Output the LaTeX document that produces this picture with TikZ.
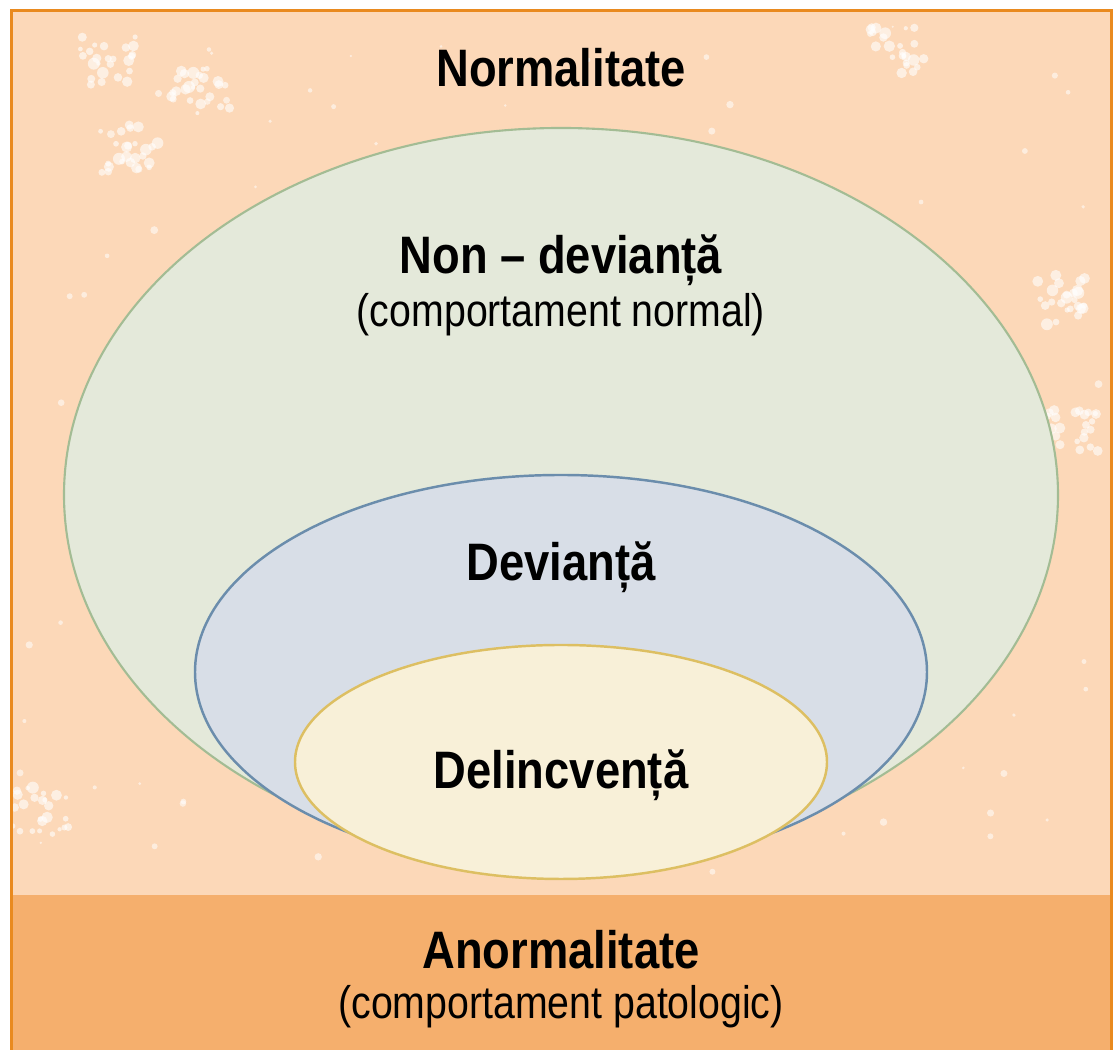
\documentclass[tikz,border=0pt]{standalone}
\usepackage{fontspec}
\setmainfont{Liberation Sans}[FakeStretch=0.86]
\definecolor{peach}{HTML}{FCD8B8}
\definecolor{bandorange}{HTML}{F5AF6D}
\definecolor{frameorange}{HTML}{E98A1F}
\definecolor{greenfill}{HTML}{E4E9DA}
\definecolor{greenline}{HTML}{A3BC94}
\definecolor{bluefill}{HTML}{D8DEE7}
\definecolor{blueline}{HTML}{6B8DAC}
\definecolor{yellowfill}{HTML}{F8F0D8}
\definecolor{yellowline}{HTML}{DDBF62}

\begin{document}
\begin{tikzpicture}[x=0.02cm,y=0.02cm,
    title/.style={font=\bfseries\fontsize{30}{35}\selectfont,inner sep=0pt},
    subtitle/.style={font=\fontsize{26}{31}\selectfont,inner sep=0pt}]
    \useasboundingbox (0,0) rectangle (1120,1050);

% fundalul
    \fill[peach] (11.5,-5) rectangle (1111.5,1039.5);
    \pgfmathsetseed{7}
    \foreach \i in {1,...,140} {
        \pgfmathsetmacro{\px}{20+1080*rnd}
        \pgfmathsetmacro{\py}{165+860*rnd}
        \fill[white,opacity=0.55] (\px,\py) circle ({1+3*rnd});
    }
    \foreach \cx/\cy in {110/990,130/900,200/960,900/1000,1060/750,1070/620,40/240} {
        \foreach \j in {1,...,25}
            \fill[white,opacity=0.6] ({\cx+60*rnd-30},{\cy+50*rnd-25}) circle ({2+4*rnd});
    }
    \fill[bandorange] (11.5,-5) rectangle (1111.5,155);
    \draw[frameorange,line width=1.7pt] (11.5,-5) -- (11.5,1039.5) -- (1111.5,1039.5) -- (1111.5,-5);

% cele trei elipse
    \draw[greenline,fill=greenfill,line width=1.2pt] (561,555) ellipse (497 and 367);
    \draw[blueline,fill=bluefill,line width=1.4pt] (561,378) ellipse (366 and 197);
    \draw[yellowline,fill=yellowfill,line width=1.4pt] (561,288) ellipse (266 and 117);

% textele
    \node[title] (normal) at (561,982) {Normalitate};
    \node[title] (nondev) at (561,790) {Non – devianță};
    \node[subtitle] (nondevsub) at (561,735) {(comportament normal)};
    \node[title] (dev) at (561,483) {Devianță};
    \node[title] (delinc) at (561,275) {Delincvență};
    \node[title] (anormal) at (561,100) {Anormalitate};
    \node[subtitle] (anormalsub) at (561,43) {(comportament patologic)};
\end{tikzpicture}
\end{document}
